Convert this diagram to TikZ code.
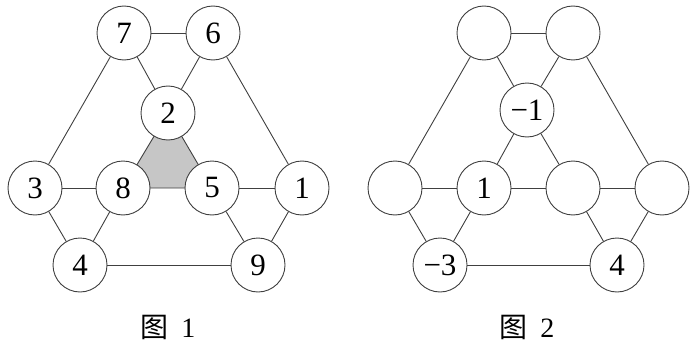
\documentclass[tikz,border=0pt]{standalone}
\usepackage{fontspec}
\setmainfont{Liberation Serif}
\newfontfamily\cjk{Noto Sans CJK SC}
\tikzset{
  ball/.style={circle, draw, fill=white, minimum size=54pt, inner sep=0pt, font=\fontsize{31}{31}\selectfont},
  caption/.style={font=\fontsize{28}{28}\selectfont}
}

\begin{document}
\begin{tikzpicture}[line width=0.9pt, draw=black!75, x=1pt, y=-1pt]
  \useasboundingbox (0,0) rectangle (696,345);
  % figure 1
  \fill[gray!45, draw=black!75] (168,113) -- (123,188) -- (212,188) -- cycle;
  \node[ball] (a7) at (124,33) {7};
  \node[ball] (a6) at (213,33) {6};
  \node[ball] (a2) at (168,113) {2};
  \node[ball] (a3) at (35,188) {3};
  \node[ball] (a8) at (123,188) {8};
  \node[ball] (a5) at (212,188) {5};
  \node[ball] (a1) at (302,188) {1};
  \node[ball] (a4) at (80,265) {4};
  \node[ball] (a9) at (258,265) {9};
  \draw (a7) -- (a6);
  \draw (a7) -- (a3);
  \draw (a7) -- (a2);
  \draw (a6) -- (a2);
  \draw (a6) -- (a1);
  \draw (a3) -- (a8);
  \draw (a5) -- (a1);
  \draw (a3) -- (a4);
  \draw (a8) -- (a4);
  \draw (a5) -- (a9);
  \draw (a1) -- (a9);
  \draw (a4) -- (a9);
  \node[caption] (cap1) at (168,327) {{\cjk 图}\hspace{0.45em}1};
  % figure 2
  \node[ball] (b7) at (484,33) {};
  \node[ball] (b6) at (573,33) {};
  \node[ball] (b2) at (527,110) {−1};
  \node[ball] (b3) at (395,188) {};
  \node[ball] (b8) at (484,188) {1};
  \node[ball] (b5) at (573,188) {};
  \node[ball] (b1) at (662,188) {};
  \node[ball] (b4) at (440,265) {−3};
  \node[ball] (b9) at (617,265) {4};
  \draw (b7) -- (b6);
  \draw (b7) -- (b3);
  \draw (b7) -- (b2);
  \draw (b6) -- (b2);
  \draw (b6) -- (b1);
  \draw (b2) -- (b8);
  \draw (b2) -- (b5);
  \draw (b3) -- (b8);
  \draw (b8) -- (b5);
  \draw (b5) -- (b1);
  \draw (b3) -- (b4);
  \draw (b8) -- (b4);
  \draw (b5) -- (b9);
  \draw (b1) -- (b9);
  \draw (b4) -- (b9);
  \node[caption] (cap2) at (527,327) {{\cjk 图}\hspace{0.45em}2};
\end{tikzpicture}
\end{document}
